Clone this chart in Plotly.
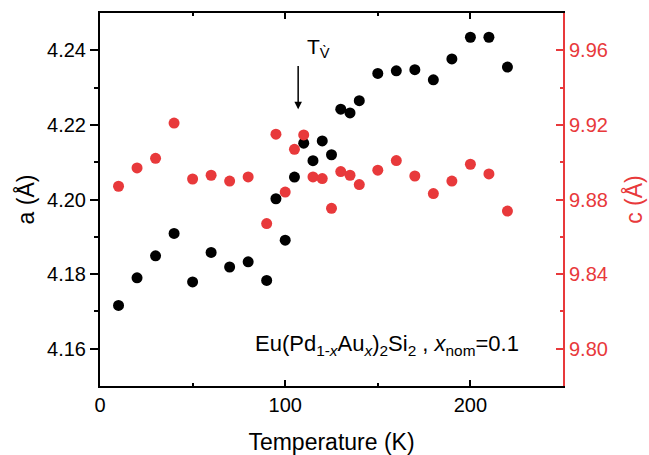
import plotly.graph_objects as go

# Temperature (K)
temperature = [10, 20, 30, 40, 50, 60, 70, 80, 90, 95, 100, 105, 110, 115, 120, 125,
               130, 135, 140, 150, 160, 170, 180, 190, 200, 210, 220]

# in-plane lattice parameter a (Å)
a_param = [4.1716, 4.1790, 4.1849, 4.1909, 4.1779, 4.1858, 4.1819, 4.1833, 4.1783,
           4.2002, 4.1891, 4.2060, 4.2151, 4.2104, 4.2157, 4.2120,
           4.2242, 4.2232, 4.2265, 4.2338, 4.2345, 4.2348, 4.2321, 4.2377,
           4.2435, 4.2435, 4.2355]

# c-axis lattice parameter c (Å)
c_param = [9.8871, 9.8969, 9.9021, 9.9210, 9.8910, 9.8930, 9.8899, 9.8921, 9.8671,
           9.9150, 9.8840, 9.9069, 9.9146, 9.8921, 9.8912, 9.8753,
           9.8950, 9.8930, 9.8880, 9.8957, 9.9009, 9.8926, 9.8832, 9.8899,
           9.8989, 9.8937, 9.8738]

BLACK = "#000000"
RED = "#E8393B"
FONT = "Liberation Sans, Arial, sans-serif"

fig = go.Figure()
fig.add_trace(go.Scatter(
    x=temperature, y=a_param, mode="markers", yaxis="y",
    marker=dict(color=BLACK, size=11), showlegend=False))
fig.add_trace(go.Scatter(
    x=temperature, y=c_param, mode="markers", yaxis="y2",
    marker=dict(color=RED, size=11), showlegend=False))

fig.update_layout(
    width=649, height=455,
    margin=dict(l=100, r=86, t=13, b=69, autoexpand=False),
    paper_bgcolor="white", plot_bgcolor="white",
    font=dict(family=FONT, color=BLACK, size=20),
    xaxis=dict(
        range=[0, 250], tickvals=[0, 100, 200], automargin=False,
        ticks="inside", ticklen=6, tickwidth=2, tickcolor=BLACK,
        minor=dict(tickvals=[50, 150], ticks="inside", ticklen=3, tickwidth=2, tickcolor=BLACK),
        showline=True, linecolor=BLACK, linewidth=2, mirror="ticks",
        showgrid=False, zeroline=False,
        tickfont=dict(size=20),
        title=dict(text="Temperature (K)", font=dict(size=23), standoff=19),
    ),
    yaxis=dict(
        range=[4.15, 4.25], tickvals=[4.16, 4.18, 4.20, 4.22, 4.24], tickformat=".2f",
        automargin=False,
        ticks="outside", ticklen=8, tickwidth=2, tickcolor=BLACK,
        minor=dict(tickvals=[4.17, 4.19, 4.21, 4.23], ticks="outside", ticklen=4,
                   tickwidth=2, tickcolor=BLACK),
        showline=True, linecolor=BLACK, linewidth=2,
        showgrid=False, zeroline=False,
        tickfont=dict(size=20),
        title=dict(text="a (Å)", font=dict(size=23), standoff=6),
    ),
    yaxis2=dict(
        range=[9.78, 9.98], tickvals=[9.80, 9.84, 9.88, 9.92, 9.96], tickformat=".2f",
        overlaying="y", side="right", automargin=False,
        ticks="inside", ticklen=7, tickwidth=2, tickcolor=RED,
        minor=dict(tickvals=[9.82, 9.86, 9.90, 9.94], ticks="inside", ticklen=3,
                   tickwidth=2, tickcolor=RED),
        showline=True, linecolor=RED, linewidth=2,
        showgrid=False, zeroline=False,
        tickfont=dict(size=20, color=RED),
        title=dict(text="c (Å)", font=dict(size=23, color=RED), standoff=19),
    ),
)

# arrow marking the valence transition
fig.add_annotation(
    x=107, y=4.2242, ax=107, ay=4.2362, xref="x", yref="y", axref="x", ayref="y",
    showarrow=True, arrowhead=2, arrowsize=1, arrowwidth=1.5, arrowcolor=BLACK, text="")
fig.add_annotation(
    x=110.7, y=4.2405, xref="x", yref="y", xanchor="left", yanchor="middle",
    text="T<sub>V\u0300</sub>", showarrow=False, font=dict(size=21, color=BLACK))

# composition label
fig.add_annotation(
    x=154.8, y=4.1609, xref="x", yref="y", xanchor="center", yanchor="middle",
    text="Eu(Pd<sub>1-<i>x</i></sub>Au<sub><i>x</i></sub>)<sub>2</sub>Si<sub>2</sub> , "
         "<i>x</i><sub>nom</sub>=0.1",
    showarrow=False, font=dict(size=22, color=BLACK))

fig.write_html("out.html")
